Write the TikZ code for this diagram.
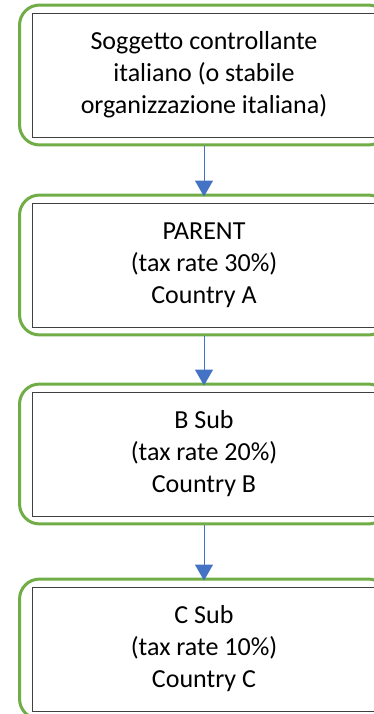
\documentclass[tikz,border=0pt]{standalone}
\usepackage{fontspec}
\setmainfont{Carlito}
\usetikzlibrary{arrows.meta,fit}
\definecolor{boxgreen}{HTML}{70AD47}
\definecolor{arrowblue}{HTML}{4472C4}
\definecolor{boxline}{HTML}{404040}
\tikzset{
  entitybox/.style={draw=boxline, line width=0.9pt, fill=white, minimum width=344pt,
    minimum height=124pt, align=center, inner sep=0pt,
    font=\fontsize{26}{32}\selectfont},
  greenframe/.style={draw=boxgreen, line width=3pt, rounded corners=20pt,
    inner xsep=12pt, inner ysep=7.5pt},
  flowarrow/.style={draw=arrowblue, line width=1pt,
    -{Triangle[length=16pt,width=18pt]}, shorten >=-3pt}
}
\begin{document}
\begin{tikzpicture}[x=1pt,y=-1pt]
\useasboundingbox (0,0) rectangle (374,714);
\clip (0,0) rectangle (374,714);
\node[entitybox] (b1) at (204,75) {Soggetto controllante\\italiano (o stabile\\organizzazione italiana)};
\node[entitybox] (b2) at (204,265) {PARENT\\(tax rate 30\%)\\Country A};
\node[entitybox] (b3) at (204,454) {B Sub\\(tax rate 20\%)\\Country B};
\node[entitybox] (b4) at (204,649) {C Sub\\(tax rate 10\%)\\Country C};
\node[greenframe, fit=(b1)] (g1) {};
\node[greenframe, fit=(b2)] (g2) {};
\node[greenframe, fit=(b3)] (g3) {};
\node[greenframe, fit=(b4)] (g4) {};
\draw[flowarrow] (g1.south) -- (g2.north);
\draw[flowarrow] (g2.south) -- (g3.north);
\draw[flowarrow] (g3.south) -- (g4.north);
\end{tikzpicture}
\end{document}
